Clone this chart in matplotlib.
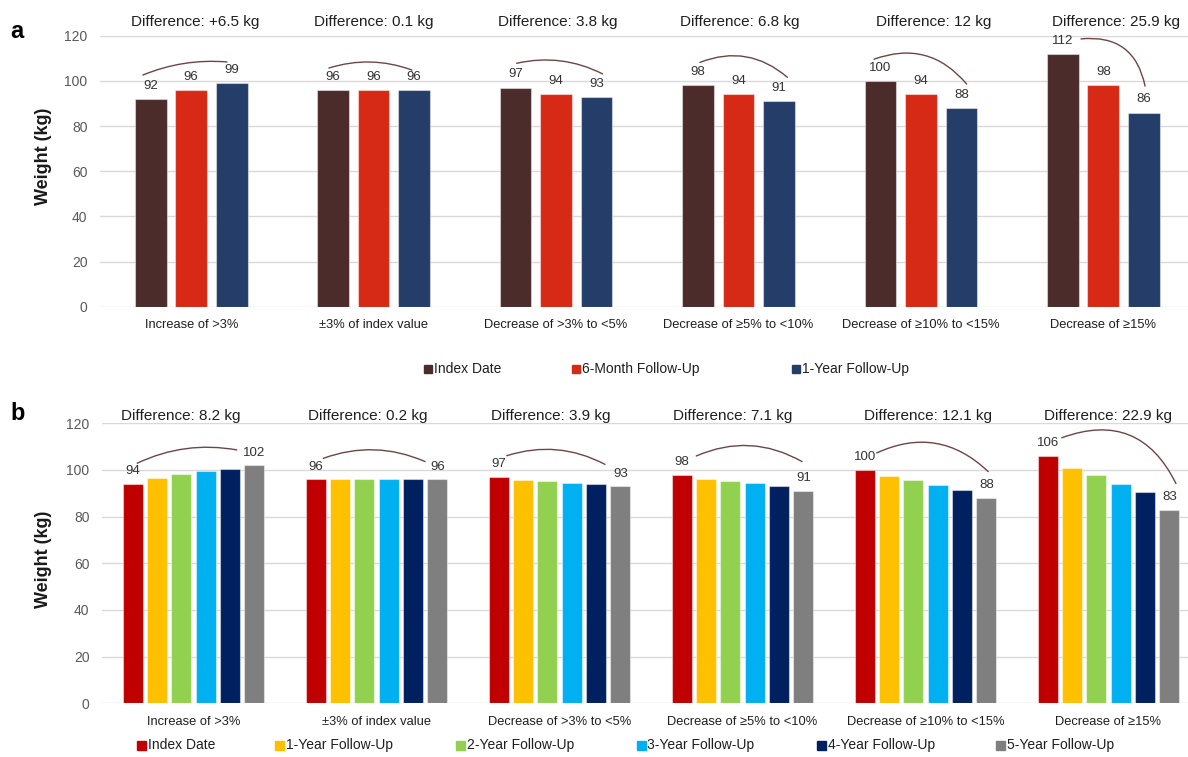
import matplotlib
matplotlib.use('Agg')
import matplotlib.pyplot as plt
from matplotlib.patches import Rectangle
import numpy as np

plt.rcParams['font.family'] = ['Liberation Sans', 'DejaVu Sans']

categories = ['Increase of >3%', '±3% of index value', 'Decrease of >3% to <5%',
              'Decrease of ≥5% to <10%', 'Decrease of ≥10% to <15%', 'Decrease of ≥15%']

# panel a: index date vs 6-month and 1-year follow-up
a_series = ['Index Date', '6-Month Follow-Up', '1-Year Follow-Up']
a_index = [92, 96, 97, 98, 100, 112]
a_6m = [96, 96, 94, 94, 94, 98]
a_1y = [99, 96, 93, 91, 88, 86]
a_diff = ['+6.5', '0.1', '3.8', '6.8', '12', '25.9']

# panel b: index date vs 1..5-year follow-up
b_series = ['Index Date', '1-Year Follow-Up', '2-Year Follow-Up',
            '3-Year Follow-Up', '4-Year Follow-Up', '5-Year Follow-Up']
b_index = [94, 96, 97, 98, 100, 106]
b_1y = [96.7, 96.2, 95.8, 96.3, 97.3, 101]
b_2y = [98.1, 96.1, 95.2, 95.3, 95.6, 97.7]
b_3y = [99.6, 96.1, 94.6, 94.3, 93.6, 94.1]
b_4y = [100.4, 96.1, 94.2, 93.1, 91.4, 90.4]
b_5y = [102, 96, 93, 91, 88, 83]
b_diff = ['8.2', '0.2', '3.9', '7.1', '12.1', '22.9']

a_colors = ['#4b2c2b', '#d62a17', '#243e69']
b_colors = ['#c00000', '#ffc000', '#92d050', '#00b0f0', '#002060', '#7f7f7f']
arc_color = '#6e4545'
grid_color = '#d9d9d9'
tick_color = '#595959'

# arc geometry: (dx start, dy start, dx end, dy end, rad)
a_arcs = [(-0.043, 10.6, -0.026, 9.4, -0.12),
          (-0.023, 9.7, -0.012, 8.8, -0.17),
          (0.006, 10.8, 0.033, 10.1, -0.18),
          (0.011, 10.2, 0.046, 10.6, -0.3),
          (-0.035, 9.6, 0.029, 10.6, -0.35),
          (0.10, 6.6, 0.007, 11.7, -0.45)]
b_arcs = [(0.025, 8.9, -0.096, 6.6, -0.16),
          (0.042, 9.0, -0.067, 7.6, -0.2),
          (0.044, 9.1, -0.084, 9.4, -0.21),
          (0.08, 8.0, -0.0075, 12.6, -0.25),
          (0.066, 7.3, 0.01, 11.3, -0.34),
          (0.077, 7.8, 0.036, 11.2, -0.45)]
a_diff_dx = [3, 0, 1.5, 1, 9, 9]
b_diff_dx = [-9, -6.5, -6.5, -7, 1.5, 0]

fig = plt.figure(figsize=(11.88, 7.57), dpi=100)
ax_a = fig.add_axes([100 / 1188, 0.5948, 1094.5 / 1188, 0.358])
ax_b = fig.add_axes([102 / 1188, 0.0709, 1098 / 1188, 0.3699])


def draw_panel(ax, data, colors, width, step, all_labels, diffs, diff_dx, diff_dy,
               arcs, label_off):
    n = len(data)
    x = np.arange(len(categories))
    offsets = (np.arange(n) - (n - 1) / 2) * step
    for k, (vals, col) in enumerate(zip(data, colors)):
        ax.bar(x + offsets[k], vals, width, color=col, edgecolor=(1, 1, 1, 0.45),
               linewidth=0.8, zorder=3)
        if all_labels or k in (0, n - 1):
            for xi, v in zip(x + offsets[k], vals):
                ax.annotate(f'{v:.0f}', (xi, v), xytext=(0, label_off),
                            textcoords='offset points', ha='center', va='center',
                            fontsize=9.5, color='#333333')
    for i in range(len(categories)):
        dxs, dys, dxe, dye, rad = arcs[i]
        ax.annotate('', xy=(i + offsets[-1] + dxe, data[-1][i] + dye),
                    xytext=(i + offsets[0] + dxs, data[0][i] + dys),
                    arrowprops=dict(arrowstyle='-', color=arc_color, lw=1.0,
                                    shrinkA=0, shrinkB=0,
                                    connectionstyle=f'arc3,rad={rad}'),
                    annotation_clip=False)
        ax.annotate(f'Difference: {diffs[i]} kg', (i, 120), xytext=(diff_dx[i], diff_dy),
                    textcoords='offset points', ha='center', va='center',
                    fontsize=11, color='#1f1f1f', annotation_clip=False)
    ax.set_xlim(-0.5, len(categories) - 0.5)
    ax.set_ylim(0, 120)
    ax.set_yticks(range(0, 121, 20))
    ax.set_xticks(x)
    ax.set_xticklabels(categories, fontsize=9.3, color='#1f1f1f')
    ax.tick_params(axis='y', length=0, pad=9, labelsize=10, labelcolor=tick_color)
    ax.tick_params(axis='x', length=0, pad=9)
    ax.grid(axis='y', color=grid_color, lw=1, zorder=0)
    for s in ax.spines.values():
        s.set_visible(False)


draw_panel(ax_a, [a_index, a_6m, a_1y], a_colors, 0.174, 0.222, True,
           a_diff, a_diff_dx, 10, a_arcs, 9.5)
draw_panel(ax_b, [b_index, b_1y, b_2y, b_3y, b_4y, b_5y], b_colors, 0.109, 0.133, False,
           b_diff, b_diff_dx, 5.5, b_arcs, 9)


def legend_row(labels, colors, xs, y, size):
    for lab, col, xp in zip(labels, colors, xs):
        fig.add_artist(Rectangle(((xp - size / 2) / 1188, 1 - (y + size / 2) / 757),
                                 size / 1188, size / 757, color=col,
                                 transform=fig.transFigure))
        fig.text((xp + size / 2 + 2) / 1188, 1 - y / 757, lab, fontsize=10,
                 color='#1f1f1f', va='center', ha='left')


legend_row(a_series, a_colors, [428, 575.5, 796], 369, 8)
legend_row(b_series, b_colors, [141.5, 279, 460.5, 641, 821.5, 1000.5], 745, 9)

# y-axis titles
for yc in (156, 559):
    fig.text(43 / 1188, 1 - yc / 757, 'Weight (kg)', rotation=90,
             fontsize=13, fontweight='bold', ha='center', va='center', color='#1a1a1a')
fig.text(10 / 1188, 1 - 31 / 757, 'a', fontsize=17, fontweight='bold', va='center')
fig.text(10 / 1188, 1 - 413 / 757, 'b', fontsize=17, fontweight='bold', va='center')

fig.savefig('out.png', dpi=100)
